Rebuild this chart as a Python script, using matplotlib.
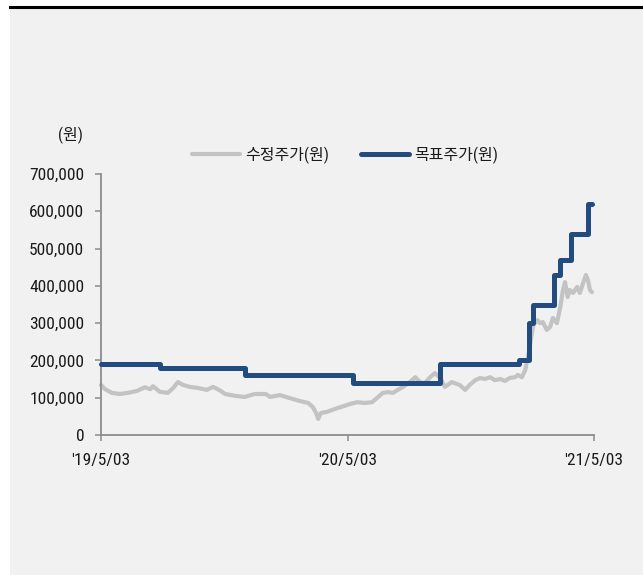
import matplotlib
matplotlib.use("Agg")
import matplotlib.pyplot as plt
from matplotlib.patches import Rectangle
from matplotlib.lines import Line2D
import pandas as pd

plt.rcParams['font.family'] = ['Roboto Condensed', 'Noto Sans CJK KR', 'DejaVu Sans']

# ---- data ----
price_dates = [
    "2019-05-03", "2019-05-09", "2019-05-19", "2019-05-31", "2019-06-12", "2019-06-25",
    "2019-07-07", "2019-07-15", "2019-07-19", "2019-07-29", "2019-08-10", "2019-08-18",
    "2019-08-25", "2019-09-02", "2019-09-12", "2019-09-24", "2019-10-07", "2019-10-16",
    "2019-10-26", "2019-11-03", "2019-11-18", "2019-12-02", "2019-12-17", "2020-01-02",
    "2020-01-09", "2020-01-23", "2020-02-07", "2020-02-22", "2020-03-05", "2020-03-12",
    "2020-03-17", "2020-03-20", "2020-03-24", "2020-04-02", "2020-04-14", "2020-04-26",
    "2020-05-06", "2020-05-17", "2020-05-28", "2020-06-08", "2020-06-15", "2020-06-24",
    "2020-07-02", "2020-07-09", "2020-07-16", "2020-07-24", "2020-08-03", "2020-08-11",
    "2020-08-18", "2020-08-25", "2020-09-02", "2020-09-09", "2020-09-17", "2020-09-24",
    "2020-10-04", "2020-10-16", "2020-10-24", "2020-10-31", "2020-11-08", "2020-11-15",
    "2020-11-22", "2020-11-30", "2020-12-07", "2020-12-15", "2020-12-22", "2020-12-29",
    "2021-01-06", "2021-01-10", "2021-01-16", "2021-01-21", "2021-01-24", "2021-01-27",
    "2021-01-30", "2021-02-02", "2021-02-08", "2021-02-12", "2021-02-16", "2021-02-22",
    "2021-02-27", "2021-03-03", "2021-03-09", "2021-03-14", "2021-03-18", "2021-03-21",
    "2021-03-25", "2021-03-28", "2021-04-02", "2021-04-08", "2021-04-12", "2021-04-17",
    "2021-04-21", "2021-04-24", "2021-04-27", "2021-04-30",
]
price_values = [
    134000, 123000, 113000, 110000, 113000, 118000,
    128000, 123000, 131000, 116000, 113000, 126000,
    142000, 134000, 129000, 126000, 121000, 129000,
    120000, 110000, 105000, 102000, 110000, 110000,
    102000, 107000, 99000, 91000, 86000, 75000,
    59000, 43000, 59000, 62000, 70000, 77000,
    83000, 88000, 86000, 88000, 99000, 113000,
    115000, 113000, 121000, 129000, 142000, 155000,
    142000, 139000, 155000, 166000, 153000, 129000,
    142000, 134000, 121000, 135000, 147000, 153000,
    150000, 155000, 147000, 150000, 145000, 153000,
    155000, 161000, 155000, 174000, 201000, 228000,
    263000, 295000, 308000, 300000, 303000, 282000,
    290000, 314000, 300000, 343000, 389000, 410000,
    370000, 389000, 381000, 397000, 381000, 408000,
    429000, 416000, 389000, 383000,
]

target_dates = [
    "2019-05-03", "2019-07-29", "2019-12-02", "2020-05-10", "2020-09-17",
    "2021-01-12", "2021-01-26", "2021-02-01", "2021-03-04", "2021-03-14",
    "2021-03-30", "2021-04-24", "2021-04-30",
]
target_values = [
    190000, 180000, 160000, 140000, 190000,
    200000, 300000, 350000, 430000, 470000,
    540000, 620000, 620000,
]

x_ticks = ["2019-05-03", "2020-05-03", "2021-05-03"]
x_tick_labels = ["'19/5/03", "'20/5/03", "'21/5/03"]
y_ticks = [0, 100000, 200000, 300000, 400000, 500000, 600000, 700000]

series_labels = ["수정주가(원)", "목표주가(원)"]
unit_label = "(원)"

# ---- figure ----
W, H = 643, 575
fig = plt.figure(figsize=(W / 100, H / 100), dpi=100)
fig.patch.set_facecolor("white")
bg = "#f1f1f1"
fig.patches.append(Rectangle((10 / W, 0), 1 - 10 / W, 1 - 8 / H, transform=fig.transFigure,
                             facecolor=bg, edgecolor="none", zorder=-10))
fig.lines.append(Line2D([10 / W, 1], [1 - 6.5 / H, 1 - 6.5 / H], transform=fig.transFigure,
                        color="black", linewidth=2.2, zorder=-5))

ax = fig.add_axes([101 / W, 1 - 435 / H, (594 - 101) / W, (435 - 174) / H])
ax.set_facecolor("none")
ax.set_zorder(5)

pdates = pd.to_datetime(price_dates)
tdates = pd.to_datetime(target_dates)

gray = "#c3c3c3"
blue = "#224b80"
ax.plot(pdates, price_values, color=gray, linewidth=3.0, solid_capstyle="round",
        solid_joinstyle="round", label=series_labels[0], zorder=2, clip_on=False)
ax.step(tdates, target_values, where="post", color=blue, linewidth=3.6,
        solid_capstyle="round", solid_joinstyle="round", label=series_labels[1], zorder=3,
        clip_on=False)

ax.set_xlim(pd.Timestamp(x_ticks[0]), pd.Timestamp(x_ticks[-1]))
ax.set_ylim(0, 700000)
ax.set_xticks(pd.to_datetime(x_ticks))
ax.set_xticklabels(x_tick_labels)
ax.set_yticks(y_ticks)
ax.set_yticklabels([f"{v:,}" for v in y_ticks])

for s in ["top", "right"]:
    ax.spines[s].set_visible(False)
for s in ["left", "bottom"]:
    ax.spines[s].set_color("#8c8c8c")
    ax.spines[s].set_linewidth(1.3)
ax.tick_params(axis="both", direction="out", length=4, width=1.1, color="#8c8c8c",
               labelsize=12.5, labelcolor="#1a1a1a")
ax.tick_params(axis="y", pad=8)
ax.tick_params(axis="x", pad=9)

fig.text(70 / W, 1 - 135 / H, unit_label, ha="center", va="center", fontsize=11.5,
         color="#1a1a1a")

leg = ax.legend(loc="center", bbox_to_anchor=(345 / W, 1 - 155 / H),
                bbox_transform=fig.transFigure, ncol=2, frameon=False, fontsize=11.5,
                handlelength=3.0, handletextpad=0.3, columnspacing=2.0)
for t in leg.get_texts():
    t.set_color("#1a1a1a")

fig.savefig("out.png", dpi=100, facecolor=fig.get_facecolor())
